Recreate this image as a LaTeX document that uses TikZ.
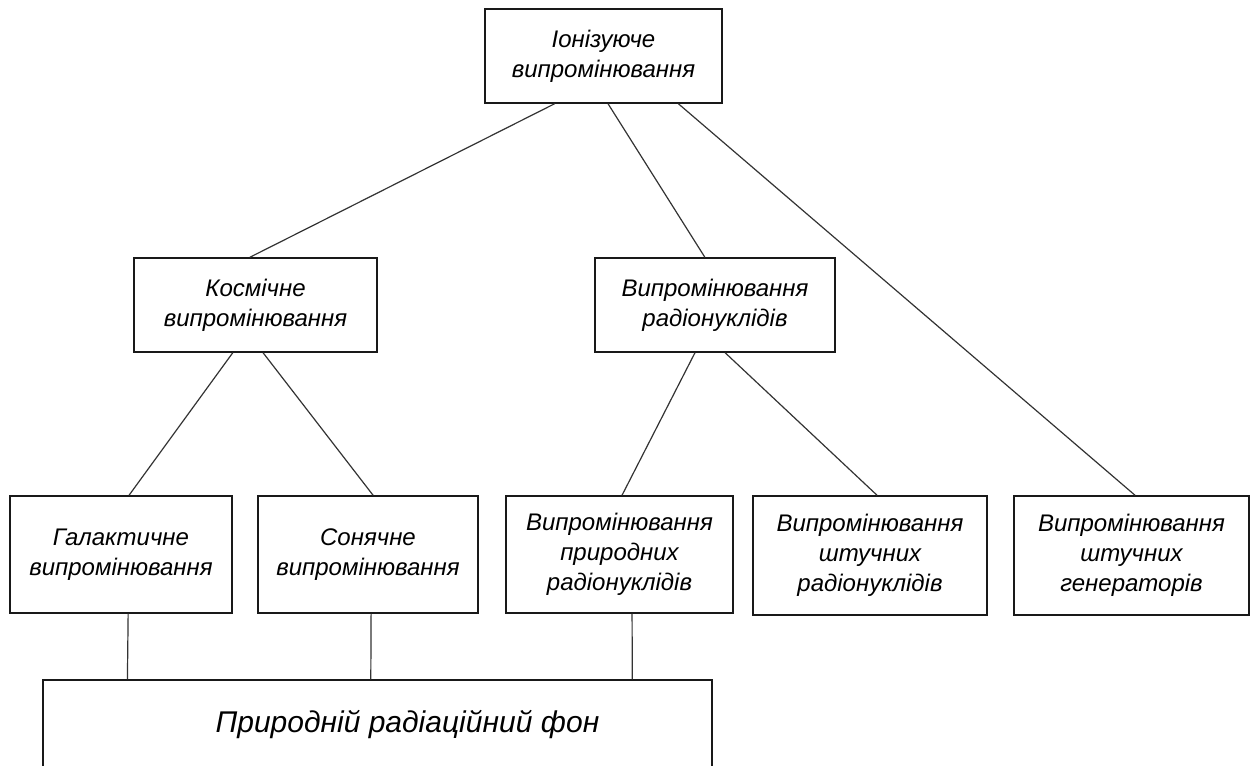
\documentclass[tikz,border=0pt]{standalone}
\usepackage{fontspec}
\setmainfont{Liberation Sans}
\usetikzlibrary{calc}
\begin{document}
\begin{tikzpicture}[x=0.75pt,y=-0.75pt,
  box/.style={draw=black!90, line width=1.1pt, inner sep=0pt, align=center,
    font=\fontsize{18}{22.5}\selectfont\itshape},
  bigbox/.style={box, font=\fontsize{22.5}{27}\selectfont\itshape},
  link/.style={draw=black!80, line width=0.9pt}]
\path[use as bounding box] (0,0) rectangle (1255,765);
\clip (0,0) rectangle (1255,765);

\node[box, minimum width=177.75pt, minimum height=70.5pt] (top) at (603.5,56)
  {Іонізуюче\\випромінювання};
\node[box, minimum width=182.25pt, minimum height=70.5pt] (cos) at (255.5,305)
  {Космічне\\випромінювання};
\node[box, minimum width=180pt, minimum height=70.5pt] (rad) at (715,305)
  {Випромінювання\\радіонуклідів};
\node[box, minimum width=166.5pt, minimum height=87.75pt] (gal) at (121,554.5)
  {Галактичне\\випромінювання};
\node[box, minimum width=165pt, minimum height=87.75pt] (sol) at (368,554.5)
  {Сонячне\\випромінювання};
\node[box, minimum width=170.25pt, minimum height=87.75pt] (nat) at (619.5,554.5)
  {Випромінювання\\природних\\радіонуклідів};
\node[box, minimum width=175.5pt, minimum height=89.25pt] (art) at (870,555.5)
  {Випромінювання\\штучних\\радіонуклідів};
\node[box, minimum width=176.25pt, minimum height=89.25pt] (gen) at (1131.5,555.5)
  {Випромінювання\\штучних\\генераторів};
\node[bigbox, minimum width=501.75pt, minimum height=67.5pt] (bot) at (377.5,725)
  {\hspace*{45pt}Природній радіаційний фон};

\draw[link] ($(top.south west)!0.295!(top.south east)$) -- ($(cos.north west)!0.477!(cos.north east)$);
\draw[link] ($(top.south west)!0.519!(top.south east)$) -- ($(rad.north west)!0.458!(rad.north east)$);
\draw[link] ($(top.south west)!0.814!(top.south east)$) -- ($(gen.north west)!0.515!(gen.north east)$);

\draw[link] ($(cos.south west)!0.407!(cos.south east)$) -- ($(gal.north west)!0.536!(gal.north east)$);
\draw[link] ($(cos.south west)!0.531!(cos.south east)$) -- ($(sol.north west)!0.523!(sol.north east)$);
\draw[link] ($(rad.south west)!0.417!(rad.south east)$) -- ($(nat.north west)!0.511!(nat.north east)$);
\draw[link] ($(rad.south west)!0.542!(rad.south east)$) -- ($(art.north west)!0.530!(art.north east)$);

\draw[link] ($(gal.south west)!0.532!(gal.south east)$) -- ($(bot.north west)!0.127!(bot.north east)$);
\draw[link] ($(sol.south west)!0.514!(sol.south east)$) -- ($(bot.north west)!0.490!(bot.north east)$);
\draw[link] ($(nat.south west)!0.555!(nat.south east)$) -- ($(bot.north west)!0.880!(bot.north east)$);
\end{tikzpicture}
\end{document}
